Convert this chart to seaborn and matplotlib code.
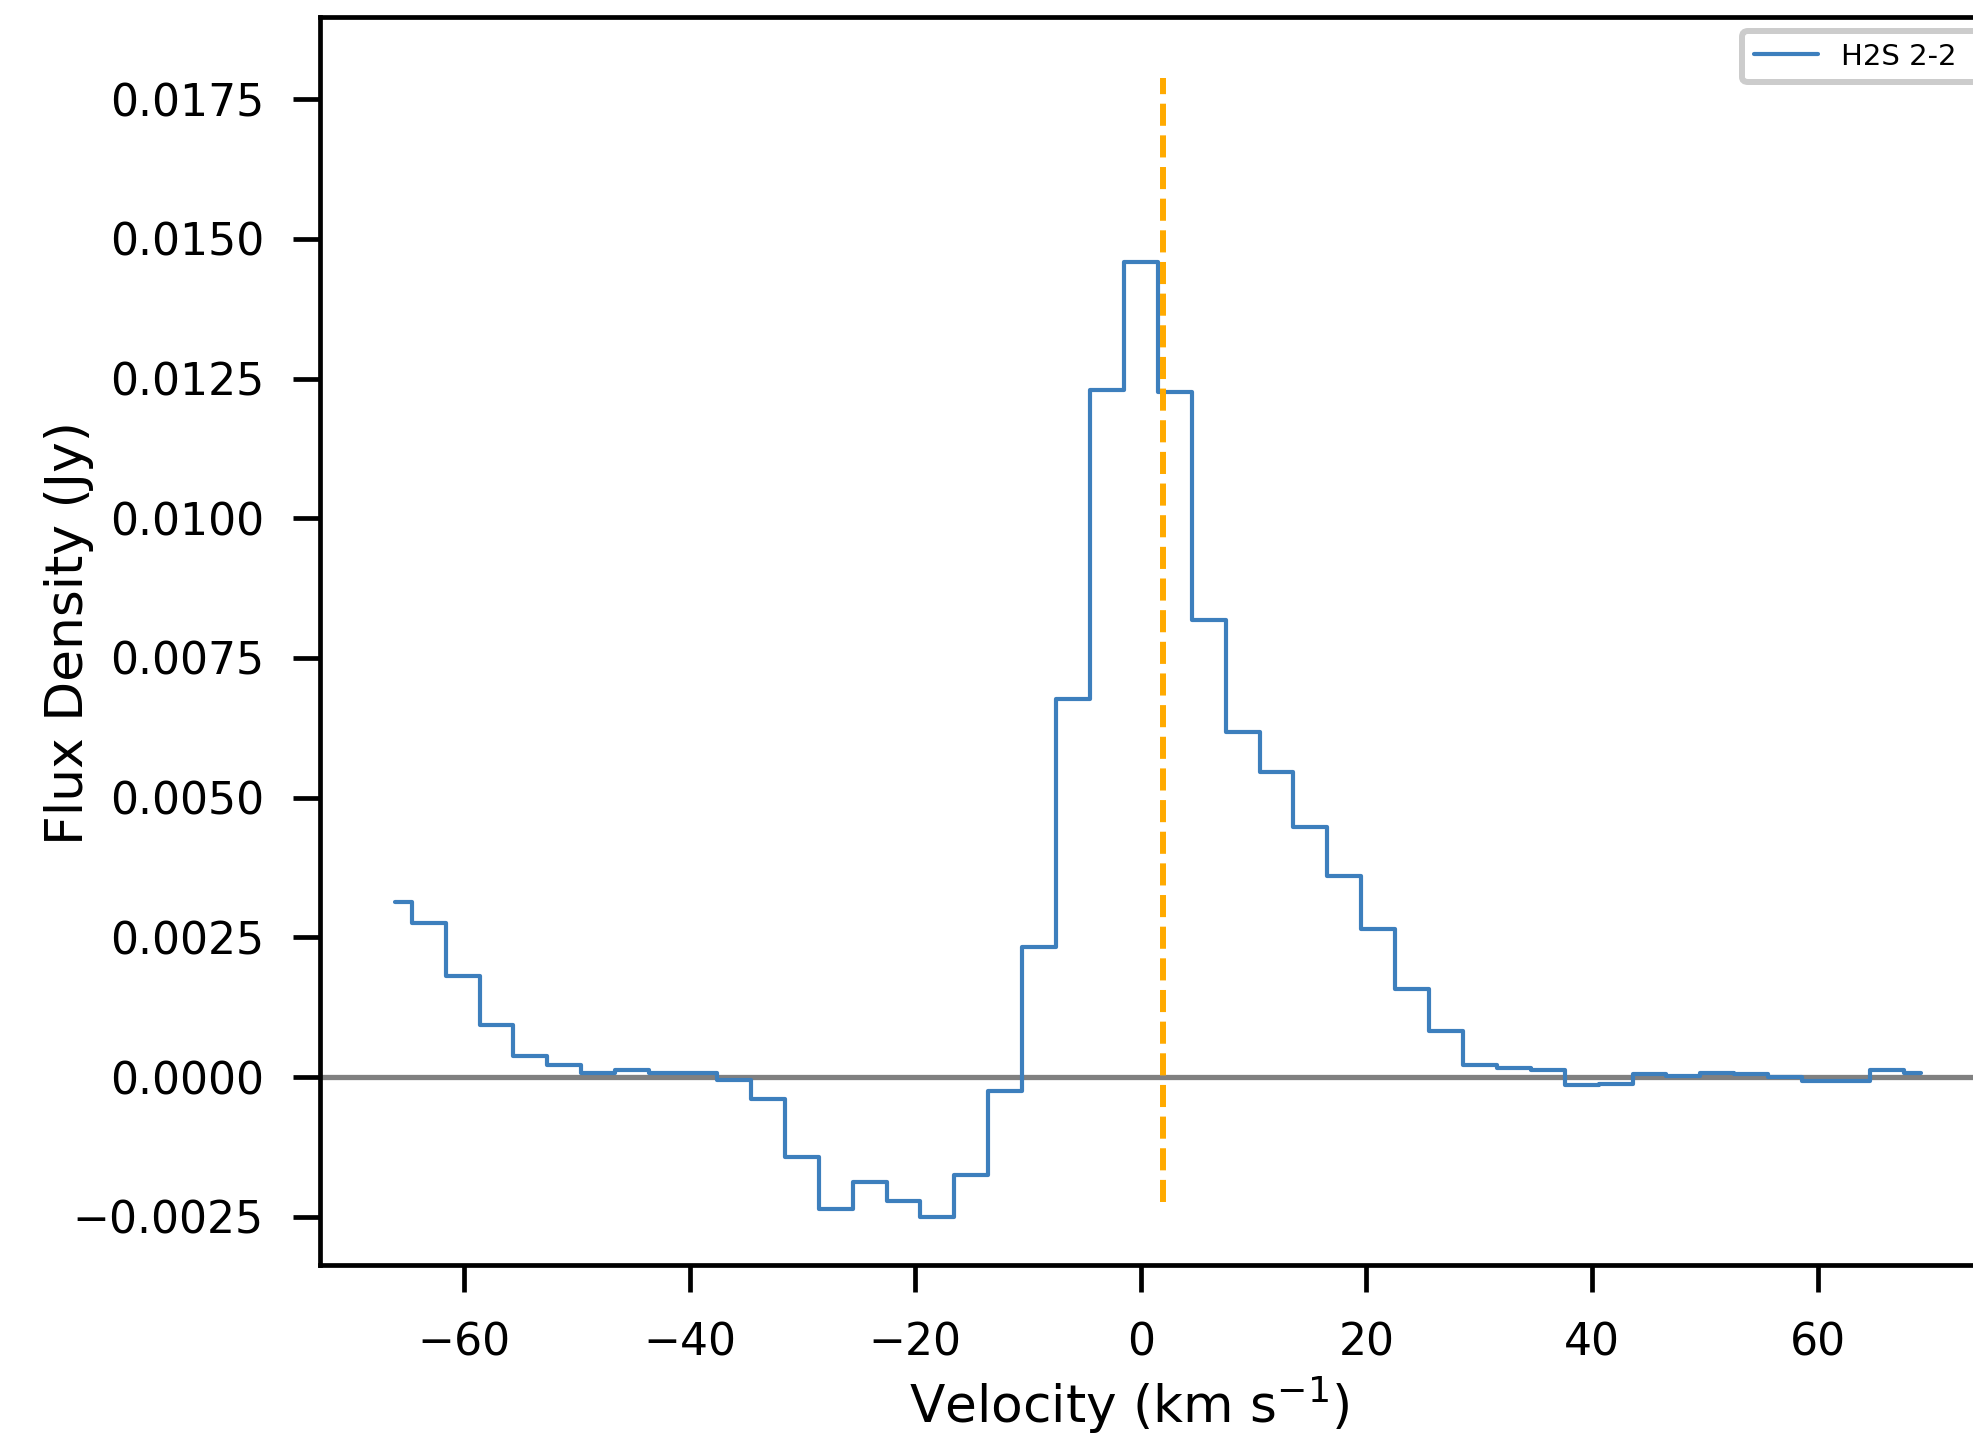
import matplotlib
matplotlib.use("Agg")
import matplotlib.pyplot as plt
import pandas as pd
import seaborn as sns

# ---- data ----
velocity = [-66.13, -63.13, -60.12, -57.11, -54.11, -51.10, -48.10, -45.09,
            -42.08, -39.08, -36.07, -33.07, -30.06, -27.05, -24.05, -21.04,
            -18.04, -15.03, -12.02, -9.02, -6.01, -3.01, 0.00, 3.01,
            6.01, 9.02, 12.02, 15.03, 18.04, 21.04, 24.05, 27.05,
            30.06, 33.07, 36.07, 39.08, 42.08, 45.09, 48.10, 51.10,
            54.11, 57.11, 60.12, 63.13, 66.13, 69.14]
flux = [0.00313, 0.00276, 0.00180, 0.00093, 0.00038, 0.00021, 0.00008, 0.00013,
        0.00008, 0.00008, -0.00005, -0.00040, -0.00143, -0.00237, -0.00188, -0.00221,
        -0.00250, -0.00175, -0.00025, 0.00233, 0.00677, 0.01230, 0.01459, 0.01225,
        0.00818, 0.00618, 0.00545, 0.00448, 0.00359, 0.00265, 0.00158, 0.00083,
        0.00022, 0.00017, 0.00013, -0.00015, -0.00012, 0.00005, 0.00001, 0.00008,
        0.00005, 0.00000, -0.00008, -0.00008, 0.00013, 0.00008]
line_label = "H2S 2-2"
v_sys = 1.95
vline_range = [-0.00224, 0.01788]
x_ticks = [-60, -40, -20, 0, 20, 40, 60]
x_ticklabels = ["\u221260", "\u221240", "\u221220", "0", "20", "40", "60"]
y_ticks = [-0.0025, 0.0, 0.0025, 0.0050, 0.0075, 0.0100, 0.0125, 0.0150, 0.0175]
y_ticklabels = ["\u22120.0025", "0.0000", "0.0025", "0.0050", "0.0075",
                "0.0100", "0.0125", "0.0150", "0.0175"]
x_label = "Velocity (km s$^{-1}$)"
y_label = "Flux Density (Jy)"

df = pd.DataFrame({"velocity": velocity, "flux": flux})

sns.set_theme(style="ticks", rc={
    "axes.edgecolor": "black",
    "axes.linewidth": 3.4,
    "xtick.color": "black",
    "ytick.color": "black",
    "text.color": "black",
    "axes.labelcolor": "black",
    "xtick.major.size": 19.4,
    "ytick.major.size": 19.4,
    "xtick.major.width": 3.4,
    "ytick.major.width": 3.4,
    "xtick.major.pad": 21,
    "ytick.major.pad": 21,
    "xtick.labelsize": 31.8,
    "ytick.labelsize": 31.8,
    "axes.labelsize": 37.3,
})
plt.rcParams["font.family"] = ["DejaVu Sans"]

fig = plt.figure(figsize=(19.73, 14.37), dpi=100)
ax = fig.add_axes([0.1622, 0.1197, 0.8500, 0.8688])

ax.axhline(0, color="#808080", lw=3.8, zorder=1)
sns.lineplot(data=df, x="velocity", y="flux", ax=ax, drawstyle="steps-mid",
             color="#3d7fbd", lw=3.0, label=line_label, zorder=3, legend=False)
ax.vlines(v_sys, vline_range[0], vline_range[1], colors="#ffaa00",
          linestyles="--", lw=4.3, zorder=4)

ax.set_xlim(-72.76, 75.9)
ax.set_ylim(-0.003364, 0.018978)
ax.set_xticks(x_ticks)
ax.set_xticklabels(x_ticklabels)
ax.set_yticks(y_ticks)
ax.set_yticklabels(y_ticklabels)

ax.set_xlabel(x_label)
ax.set_ylabel(y_label)
ax.xaxis.set_label_coords(0.4824, -0.088)
ax.yaxis.set_label_coords(-0.1345, 0.506)

leg = ax.legend(loc="upper left", bbox_to_anchor=(0.8829, 0.9784, 0.14, 0.0),
                bbox_transform=fig.transFigure, borderaxespad=0, mode="expand",
                fontsize=21, handlelength=2.2, frameon=True, fancybox=True,
                edgecolor="0.8", framealpha=1.0)
leg.get_frame().set_linewidth(4.3)

fig.savefig("out.png", dpi=100, facecolor="white")
